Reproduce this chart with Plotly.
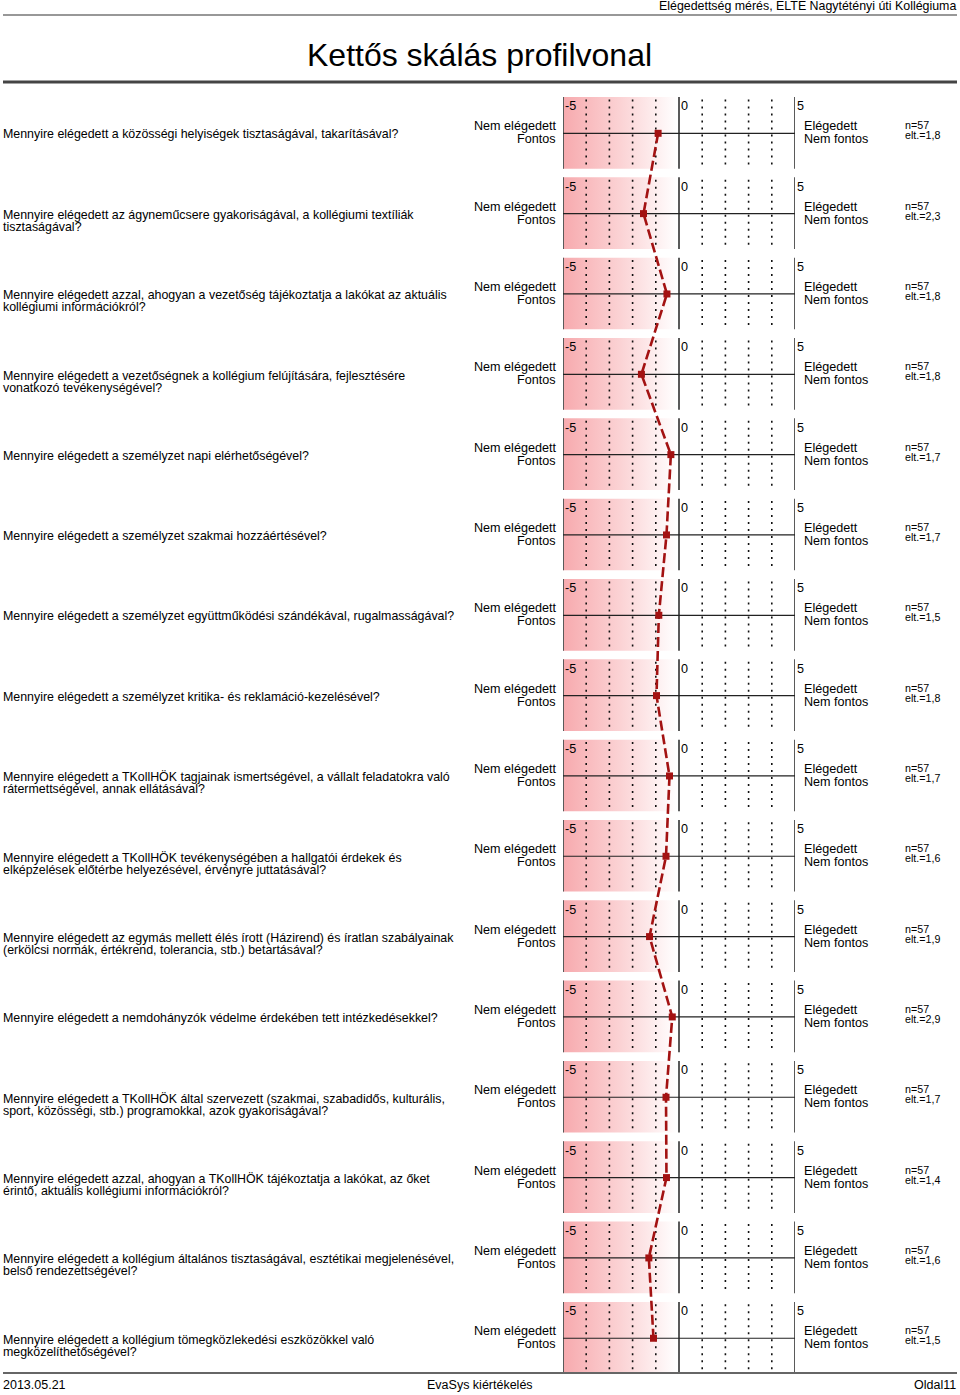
import plotly.graph_objects as go

# ---------------- data ----------------
questions = [
    ["Mennyire elégedett a közösségi helyiségek tisztaságával, takarításával?"],
    ["Mennyire elégedett az ágyneműcsere gyakoriságával, a kollégiumi textíliák", "tisztaságával?"],
    ["Mennyire elégedett azzal, ahogyan a vezetőség tájékoztatja a lakókat az aktuális", "kollégiumi információkról?"],
    ["Mennyire elégedett a vezetőségnek a kollégium felújítására, fejlesztésére", "vonatkozó tevékenységével?"],
    ["Mennyire elégedett a személyzet napi elérhetőségével?"],
    ["Mennyire elégedett a személyzet szakmai hozzáértésével?"],
    ["Mennyire elégedett a személyzet együttműködési szándékával, rugalmasságával?"],
    ["Mennyire elégedett a személyzet kritika- és reklamáció-kezelésével?"],
    ["Mennyire elégedett a TKollHÖK tagjainak ismertségével, a vállalt feladatokra való", "rátermettségével, annak ellátásával?"],
    ["Mennyire elégedett a TKollHÖK tevékenységében a hallgatói érdekek és", "elképzelések előtérbe helyezésével, érvényre juttatásával?"],
    ["Mennyire elégedett az egymás mellett élés írott (Házirend) és íratlan szabályainak", "(erkölcsi normák, értékrend, tolerancia, stb.) betartásával?"],
    ["Mennyire elégedett a nemdohányzók védelme érdekében tett intézkedésekkel?"],
    ["Mennyire elégedett a TKollHÖK által szervezett (szakmai, szabadidős, kulturális,", "sport, közösségi, stb.) programokkal, azok gyakoriságával?"],
    ["Mennyire elégedett azzal, ahogyan a TKollHÖK tájékoztatja a lakókat, az őket", "érintő, aktuális kollégiumi információkról?"],
    ["Mennyire elégedett a kollégium általános tisztaságával, esztétikai megjelenésével,", "belső rendezettségével?"],
    ["Mennyire elégedett a kollégium tömegközlekedési eszközökkel való", "megközelíthetőségével?"],
]
means = [-0.90, -1.53, -0.52, -1.62, -0.35, -0.54, -0.87, -0.97,
         -0.41, -0.56, -1.27, -0.29, -0.56, -0.54, -1.30, -1.10]
n_values = [57] * 16
sd_values = ["1,8", "2,3", "1,8", "1,8", "1,7", "1,7", "1,5", "1,8",
             "1,7", "1,6", "1,9", "2,9", "1,7", "1,4", "1,6", "1,5"]
left_labels = ["Nem elégedett", "Fontos"]
right_labels = ["Elégedett", "Nem fontos"]
scale_ticks = [-5, 0, 5]
dotted_ticks = [-4, -3, -2, -1, 1, 2, 3, 4]
header_text = "Elégedettség mérés, ELTE Nagytétényi úti Kollégiuma"
title_text = "Kettős skálás profilvonal"
footer_left = "2013.05.21"
footer_center = "EvaSys kiértékelés"
footer_right = "Oldal11"

# ---------------- geometry ----------------
W, H = 960, 1395
FONT = "Liberation Sans, Arial, sans-serif"
rows = list(range(1, len(means) + 1))
row_px = 80.33
first_px = 133.3
y_top = 1 - first_px / row_px
y_bot = 1 + (H - first_px) / row_px
TOP, BOT = -0.452, 0.44  # panel extent relative to row centre
GRAD_END = -0.08

fig = go.Figure()

# gradient panels
gx, gy = [], []
for r in rows:
    gx += [-5, GRAD_END, GRAD_END, -5, -5, None]
    gy += [r + TOP, r + TOP, r + BOT, r + BOT, r + TOP, None]
fig.add_trace(go.Scatter(
    x=gx, y=gy, mode="lines", fill="toself", line=dict(width=0),
    fillgradient=dict(type="horizontal",
                      colorscale=[[0, "rgb(247,170,174)"], [0.5, "rgb(251,210,212)"],
                                  [1, "rgb(255,255,255)"]]),
    hoverinfo="skip", showlegend=False))

# dotted grid lines
dx, dy = [], []
for r in rows:
    for t in dotted_ticks:
        dx += [t, t, None]
        dy += [r + TOP + 0.03, r + BOT, None]
fig.add_trace(go.Scatter(x=dx, y=dy, mode="lines",
                         line=dict(color="#111111", width=1.6, dash="2px,5px"),
                         hoverinfo="skip", showlegend=False))

# solid scale lines
sx, sy = [], []
for r in rows:
    for t in scale_ticks:
        sx += [t, t, None]
        sy += [r + TOP, r + BOT, None]
fig.add_trace(go.Scatter(x=sx, y=sy, mode="lines",
                         line=dict(color="#5a5a5a", width=2),
                         hoverinfo="skip", showlegend=False))

# horizontal centre lines
hx, hy = [], []
for r in rows:
    hx += [-5, 5, None]
    hy += [r, r, None]
fig.add_trace(go.Scatter(x=hx, y=hy, mode="lines",
                         line=dict(color="#222222", width=1.2),
                         hoverinfo="skip", showlegend=False))

# profile line
fig.add_trace(go.Scatter(x=means, y=rows, mode="lines+markers",
                         line=dict(color="#a31212", width=2.6, dash="10px,4px"),
                         marker=dict(symbol="square", size=7, color="#a31212"),
                         hoverinfo="skip", showlegend=False))

ann = []
def A(**kw):
    base = dict(showarrow=False, font=dict(family=FONT, size=12.4, color="#000000"))
    f = kw.pop("font", None)
    if f:
        base["font"].update(f)
    base.update(kw)
    ann.append(base)

for r, q, n, sd in zip(rows, questions, n_values, sd_values):
    downs = [1] if len(q) == 1 else [1.5, 13.5]
    for line, d in zip(q, downs):
        A(text=line, xref="paper", x=1 / W, xanchor="left",
          yref="y", y=r, yanchor="middle", yshift=-d)
    for t in scale_ticks:
        A(text=str(t), xref="x", x=t, xanchor="left", xshift=0,
          yref="y", y=r, yanchor="middle", yshift=27, font=dict(size=12.6))
    A(text=left_labels[0], xref="x", x=-5, xanchor="right", xshift=-5,
      yref="y", y=r, yanchor="middle", yshift=7, font=dict(size=12.6))
    A(text=left_labels[1], xref="x", x=-5, xanchor="right", xshift=-5,
      yref="y", y=r, yanchor="middle", yshift=-6, font=dict(size=12.6))
    A(text=right_labels[0], xref="x", x=5, xanchor="left", xshift=7,
      yref="y", y=r, yanchor="middle", yshift=7, font=dict(size=12.6))
    A(text=right_labels[1], xref="x", x=5, xanchor="left", xshift=7,
      yref="y", y=r, yanchor="middle", yshift=-6, font=dict(size=12.6))
    A(text=f"n={n}", xref="paper", x=903 / W, xanchor="left",
      yref="y", y=r, yanchor="middle", yshift=8, font=dict(size=10.7))
    A(text=f"elt.={sd}", xref="paper", x=903 / W, xanchor="left",
      yref="y", y=r, yanchor="middle", yshift=-2, font=dict(size=10.7))

# header / footer
A(text=header_text, xref="paper", x=958 / W, xanchor="right",
  yref="paper", y=1 - 6 / H, yanchor="middle", font=dict(size=12.4))
A(text=title_text, xref="paper", x=479 / W, xanchor="center",
  yref="paper", y=1 - 55 / H, yanchor="middle", font=dict(size=32))
A(text=footer_left, xref="paper", x=1 / W, xanchor="left",
  yref="paper", y=1 - 1385 / H, yanchor="middle", font=dict(size=12.5))
A(text=footer_center, xref="paper", x=480 / W, xanchor="center",
  yref="paper", y=1 - 1385 / H, yanchor="middle", font=dict(size=12.5))
A(text=footer_right, xref="paper", x=958 / W, xanchor="right",
  yref="paper", y=1 - 1385 / H, yanchor="middle", font=dict(size=12.5))

shapes = [
    dict(type="line", xref="paper", yref="paper", x0=3 / W, x1=957 / W,
         y0=1 - 15 / H, y1=1 - 15 / H, line=dict(color="#333333", width=1.2)),
    dict(type="line", xref="paper", yref="paper", x0=3 / W, x1=957 / W,
         y0=1 - 82 / H, y1=1 - 82 / H, line=dict(color="#444444", width=3)),
    dict(type="line", xref="paper", yref="paper", x0=3 / W, x1=957 / W,
         y0=1 - 1373 / H, y1=1 - 1373 / H, line=dict(color="#666666", width=2)),
]

fig.update_layout(
    width=W, height=H, margin=dict(l=0, r=0, t=0, b=0, pad=0),
    paper_bgcolor="white", plot_bgcolor="white",
    xaxis=dict(domain=[563 / W, 795 / W], range=[-5, 5], visible=False, fixedrange=True),
    yaxis=dict(domain=[0, 1], range=[y_bot, y_top], visible=False, fixedrange=True),
    annotations=ann, shapes=shapes, showlegend=False,
    font=dict(family=FONT),
)

fig.write_html("out.html", config={"displayModeBar": False},
               post_script="document.body.style.margin='0';document.body.style.overflow='hidden';")
